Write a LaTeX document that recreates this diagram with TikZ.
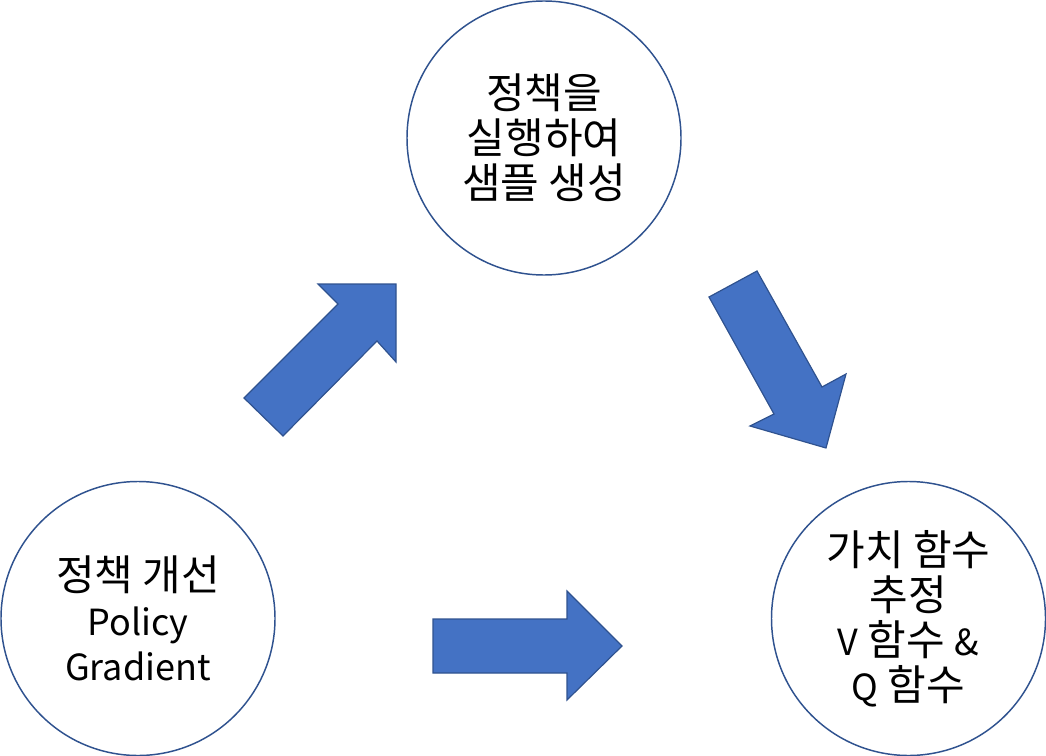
\documentclass[tikz,border=0pt]{standalone}
\usepackage{fontspec}
\setmainfont{Noto Sans CJK KR}
\usetikzlibrary{calc}
\definecolor{arrowfill}{HTML}{4472C4}
\definecolor{ringblue}{HTML}{2F528F}
\newcommand{\latn}[1]{{\fontsize{27pt}{33.75pt}\selectfont #1}}
\tikzset{
	stage/.style={circle, draw=ringblue, line width=1.1pt, fill=white, minimum size=205.5pt, inner sep=0pt, align=center, font=\fontsize{31.5pt}{33.75pt}\selectfont},
	blockarrow/.style={fill=arrowfill, draw=ringblue, line width=0.9pt, line join=miter}
}
\begin{document}
\begin{tikzpicture}[x=0.75pt, y=-0.75pt]
			%%%%% START %%%%%
			
			\useasboundingbox (0, 0) rectangle (1046, 756);
			
			\node[stage] (sample) at (544, 138) {정책을\\실행하여\\샘플 생성};
			\node[stage] (improve) at (138, 618.5) {정책 개선\\\latn{Policy}\\\latn{Gradient}};
			\node[stage] (estimate) at (908.5, 618.5) {가치 함수\\추정\\\latn{V} 함수 \latn{\&}\\\latn{Q} 함수};
			
			% up-right arrow
			\draw[blockarrow] (244, 398) -- (338, 304) -- (318, 284) -- (396, 284) -- (396, 362) -- (377, 341) -- (283, 436) -- cycle;
			
			% down-right arrow
			\draw[blockarrow] (709, 297) -- (757, 271) -- (822, 387) -- (846, 374) -- (826, 448) -- (750, 426) -- (774, 414) -- cycle;
			
			% right arrow
			\draw[blockarrow] (433, 619) -- (567, 619) -- (567, 591) -- (622, 646) -- (567, 700) -- (567, 673) -- (433, 673) -- cycle;
			
			%%%%% END %%%%%
		\end{tikzpicture}
\end{document}
